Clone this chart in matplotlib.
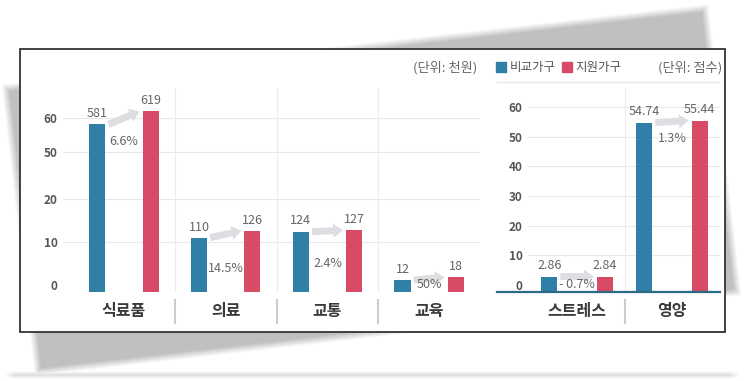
import numpy as np
import matplotlib
matplotlib.use('Agg')
import matplotlib.pyplot as plt
from matplotlib.patches import Rectangle, Patch
from matplotlib.lines import Line2D

plt.rcParams['font.family'] = ['Noto Sans CJK KR', 'DejaVu Sans']

# left panel: monthly spending (천원)
cats_l = ['식료품', '의료', '교통', '교육']
comp_l = [581, 110, 124, 12]
supp_l = [619, 126, 127, 18]
pct_l = ['6.6%', '14.5%', '2.4%', '50%']
yticks_l = [0, 10, 20, 50, 60]

# right panel: scores
cats_r = ['스트레스', '영양']
comp_r = [2.86, 54.74]
supp_r = [2.84, 55.44]
pct_r = ['- 0.7%', '1.3%']
yticks_r = [0, 10, 20, 30, 40, 50, 60]

BLUE = '#2f7fa6'
RED = '#d84a66'
ARROW = '#dcdee1'
TXT = '#666666'

W, H = 745, 381
fig = plt.figure(figsize=(7.45, 3.81), dpi=100)


def fx(px):
    return px / W


def fy(py):
    return 1 - py / H


# ---- background: tilted gray card + white panel
bg = fig.add_axes([0, 0, 1, 1], zorder=-10)
bg.set_xlim(0, W)
bg.set_ylim(H, 0)
bg.axis('off')
yy, xx = np.mgrid[0:H, 0:W] + 0.5
th = np.deg2rad(6.5)
c, s = np.cos(th), np.sin(th)
dx, dy = xx - 38, yy - 372
u = dx * c - dy * s
v = -dx * s - dy * c
sd = np.maximum.reduce([-u, u - 704, -v, v - 286])
a = np.clip(0.5 - sd / 8, 0, 1)
floor = (np.exp(-((yy - 375) / 2.5) ** 2) * np.clip((xx - 5) / 10, 0, 1)
         * np.clip((740 - xx) / 10, 0, 1) * 0.5)
a = np.maximum(a, floor)
gray = 1 - a * (1 - 0.75)
bg.imshow(gray, cmap='gray', vmin=0, vmax=1, extent=(0, W, H, 0),
          interpolation='bilinear', aspect='auto')
bg.add_patch(Rectangle((20, 49), 705, 283, facecolor='white',
                       edgecolor='#333333', lw=1.3))


def style_axes(ax, cats, x, yticks):
    ax.set_facecolor('none')
    for sp in ax.spines.values():
        sp.set_visible(False)
    ax.set_yticks(yticks)
    ax.tick_params(axis='y', length=0, pad=4, labelsize=8.5, labelcolor='#555555')
    for t in ax.get_yticklabels():
        t.set_fontweight('bold')
    ax.set_xticks(x, cats)
    ax.tick_params(axis='x', length=0, pad=8, labelsize=11.5, labelcolor='#3a3a3a')
    for t in ax.get_xticklabels():
        t.set_fontweight('bold')
    for t in yticks[1:]:
        ax.axhline(t, color='#e8e8e8', lw=0.8, zorder=0)
    for sx in x[:-1] + 0.5:
        ax.axvline(sx, color='#ececec', lw=0.8, zorder=0)
        ax.plot([sx, sx], [-0.04, -0.15], transform=ax.get_xaxis_transform(),
                color='#c9ced6', lw=1.5, clip_on=False)


def draw_pairs(ax, x, vb, vr, lb, lr, pct, off, bw, base, pct_dy):
    ax.bar(x - off, vb - base, bottom=base, width=bw, color=BLUE, zorder=2)
    ax.bar(x + off, vr - base, bottom=base, width=bw, color=RED, zorder=2)
    for i, xi in enumerate(x):
        ax.annotate(lb[i], (xi - off, vb[i]), xytext=(0, 3), textcoords='offset points',
                    ha='center', va='bottom', fontsize=9, color=TXT)
        ax.annotate(lr[i], (xi + off, vr[i]), xytext=(0, 3), textcoords='offset points',
                    ha='center', va='bottom', fontsize=9, color=TXT)
        ax.annotate('', xy=(xi + off - bw / 2 - 0.03, vr[i]),
                    xytext=(xi - off + bw / 2 + 0.03, vb[i]),
                    arrowprops=dict(arrowstyle='simple,head_length=0.7,head_width=1.0,tail_width=0.5',
                                    color=ARROW, lw=0, shrinkA=0, shrinkB=0), zorder=1)
        ax.annotate(pct[i], (xi, (vb[i] + vr[i]) / 2), xytext=(0, pct_dy[i] * 0.72),
                    textcoords='offset points', ha='center', va='center',
                    fontsize=9, color=TXT)


# ---- left panel
ax_l = fig.add_axes([fx(63), fy(292), (480 - 63) / W, 204 / H])
kv = [-20, 0, 10, 20, 50, 60, 100]
kp = [-86, 0, 43, 86, 133, 167, 303]
ax_l.set_yscale('function', functions=(lambda q: np.interp(q, kv, kp),
                                        lambda q: np.interp(q, kp, kv)))
base_l = -1.63
ax_l.set_ylim(base_l, 68.8)
xl = np.arange(len(cats_l))
ax_l.set_xlim(-0.6, 3.5)
style_axes(ax_l, cats_l, xl, yticks_l)
draw_pairs(ax_l, xl, np.array(comp_l) / 10, np.array(supp_l) / 10,
           [str(q) for q in comp_l], [str(q) for q in supp_l], pct_l,
           0.262, 0.158, base_l, [-24, -34, -32, -6])

# ---- right panel
ax_r = fig.add_axes([fx(528), fy(292), (720 - 528) / W, 204 / H])
base_r = -2.36
ax_r.set_ylim(base_r, 66.4)
xr = np.arange(len(cats_r))
ax_r.set_xlim(-0.516, 1.505)
style_axes(ax_r, cats_r, xr, yticks_r)
draw_pairs(ax_r, xr, np.array(comp_r), np.array(supp_r),
           [f'{q:.2f}' for q in comp_r], [f'{q:.2f}' for q in supp_r], pct_r,
           0.29, 0.168, base_r, [-8, -17])
ax_r.axhline(base_r, xmin=-0.161, xmax=1, color='#2c6b88', lw=1.6,
             clip_on=False, zorder=3)

# ---- header texts and legend
fig.text(fx(477), fy(68), '(단위: 천원)', ha='right', va='center', fontsize=9.5, color=TXT)
fig.text(fx(722), fy(68), '(단위: 점수)', ha='right', va='center', fontsize=9.5, color=TXT)
fig.add_artist(Line2D([fx(497), fx(720)], [fy(82), fy(82)], color='#e6e6e6', lw=1))
handles = [Patch(color=BLUE, label='비교가구'), Patch(color=RED, label='지원가구')]
fig.legend(handles=handles, loc='center left', bbox_to_anchor=(fx(496), fy(68)),
           ncol=2, frameon=False, fontsize=9, handlelength=0.8, handleheight=0.8,
           handletextpad=0.3, columnspacing=0.5, borderpad=0, borderaxespad=0,
           labelcolor='#555555')

fig.savefig('out.png', dpi=100)
